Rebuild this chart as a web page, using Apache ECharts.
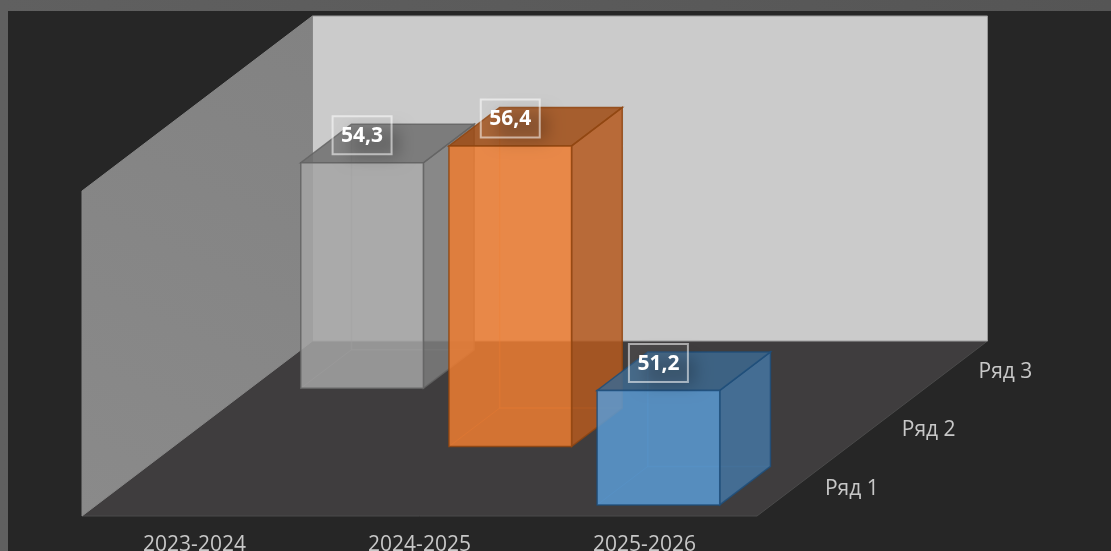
<!DOCTYPE html>
<html><head><meta charset="utf-8">
<style>html,body{margin:0;padding:0;background:#5b5b5b;overflow:hidden}#c{width:1111px;height:551px}</style>
<script src="https://cdn.jsdelivr.net/npm/echarts@6/dist/echarts.min.js"></script>
</head><body><div id="c"></div>
<script>
const categories = ['2023-2024', '2024-2025', '2025-2026'];
const rowNames = ['Ряд 1', 'Ряд 2', 'Ряд 3'];
const row3Values = [54.3, null, null];
const row2Values = [null, 56.4, null];
const row1Values = [null, null, 51.2];
const AXIS_MIN = 48, AXIS_MAX = 57.08;

const FONT = '"Open Sans", sans-serif';
const STEP_X = 76.83, STEP_Y = -58.33;   // screen shift of one depth row
const INSET_U = 0.2245, WIDTH_U = 0.545; // bar inset and width within a category
const INSET_D = 0.19, WIDTH_D = 0.66;    // bar inset and depth within a row

function P(api, u, d, v) {
  const c = api.coord([0, v]);
  const bw = api.size([1, 0])[0];
  return [c[0] + (u - 0.5) * bw + d * STEP_X, c[1] + d * STEP_Y];
}
const poly = (points, style, z2) => ({ type: 'polygon', shape: { points }, style, z2: z2 || 0, silent: true });

function renderStage(params, api) {
  const T = AXIS_MAX, B = AXIS_MIN, D = rowNames.length, U = categories.length;
  return {
    type: 'group',
    children: [
      poly([P(api,0,0,B),P(api,U,0,B),P(api,U,D,B),P(api,0,D,B)], { fill:'#3f3d3e', stroke:'#4a4a4a', lineWidth:1 }),
      poly([P(api,0,D,B),P(api,U,D,B),P(api,U,D,T),P(api,0,D,T)], { fill:'#cbcbcb', stroke:'#9a9a9a', lineWidth:1 }),
      poly([P(api,0,0,B),P(api,0,D,B),P(api,0,D,T),P(api,0,0,T)], {
        fill:{ type:'linear', x:0, y:1, x2:1, y2:0, colorStops:[{offset:0,color:'#8a8a8a'},{offset:1,color:'#828282'}] },
        stroke:'#888888', lineWidth:1 })
    ]
  };
}

function bar(row, color, side, top, edge, backLine) {
  return function (params, api) {
    const u = api.value(0), v = api.value(1), B = AXIS_MIN;
    const u0 = u + INSET_U, u1 = u0 + WIDTH_U, d0 = row + INSET_D, d1 = d0 + WIDTH_D;
    const p = (a, b, c) => P(api, a, b, c);
    const a = 0.85;
    const ft = p(u0, d0, v), ftr = p(u1, d0, v), fb = p(u0, d0, B), fbr = p(u1, d0, B);
    const bt = p(u0, d1, v), btr = p(u1, d1, v), bb = p(u0, d1, B), bbr = p(u1, d1, B);
    const cx = (ft[0] + ftr[0]) / 2, cy = ft[1] - 27.5;
    const label = String(v).replace('.', ',');
    const OFF = 3000;
    return {
      type: 'group',
      children: [
        { type:'polyline', shape:{ points:[bt, bb, bbr] }, style:{ stroke:backLine, lineWidth:1.5, fill:null }, silent:true },
        { type:'line', shape:{ x1:fb[0], y1:fb[1], x2:bb[0], y2:bb[1] }, style:{ stroke:backLine, lineWidth:1 }, silent:true },
        poly([ftr, fbr, bbr, btr], { fill:side, opacity:a, stroke:edge, lineWidth:1.5 }),
        poly([ft, ftr, btr, bt], { fill:top, opacity:a, stroke:edge, lineWidth:1.5 }),
        poly([ft, ftr, fbr, fb], { fill:color, opacity:a, stroke:edge, lineWidth:1.5 }),
        { type:'rect', shape:{ x:cx-13-OFF, y:cy-6, width:50, height:28 },
          style:{ fill:'#000', shadowBlur:16, shadowColor:'rgba(0,0,0,0.22)', shadowOffsetX:OFF, shadowOffsetY:0 }, silent:true },
        { type:'rect', shape:{ x:cx-29.5, y:cy-19, width:59, height:38 },
          style:{ fill:'rgba(255,255,255,0.05)', stroke:'rgba(255,255,255,0.55)', lineWidth:2 }, silent:true },
        { type:'text', style:{ text:label, x:cx, y:cy+1, align:'center', verticalAlign:'middle', fill:'#ffffff',
          font:'bold 21px ' + FONT }, silent:true }
      ]
    };
  };
}

function renderRowLabel(params, api) {
  const d = api.value(0);
  const p = P(api, categories.length, d + 0.5, AXIS_MIN);
  return { type:'text', style:{ text:rowNames[d], x:p[0] + 29.5, y:p[1] + 2, align:'left', verticalAlign:'middle',
    fill:'#c8c8c8', font:'21px ' + FONT }, silent:true };
}

const toPairs = vals => vals.map((v, i) => [i, v]).filter(x => x[1] !== null);

const chart = echarts.init(document.getElementById('c'), null, { renderer:'canvas' });
chart.setOption({
  animation: false,
  backgroundColor: { type:'linear', x:0, y:0, x2:1, y2:0, colorStops:[{offset:0,color:'#606060'},{offset:1,color:'#555555'}] },
  graphic: [{ type:'rect', shape:{ x:8, y:11, width:1103, height:540 }, style:{ fill:'#262626' }, z:-1, silent:true }],
  grid: { left:82, right:354, top:191, bottom:35, containLabel:false, outerBoundsMode:'none' },
  xAxis: { type:'category', data:categories, axisLine:{show:false}, axisTick:{show:false}, splitLine:{show:false},
    axisLabel:{ color:'#c8c8c8', fontFamily:'"Open Sans", sans-serif', fontSize:21, margin:19, interval:0, hideOverlap:false } },
  yAxis: { type:'value', min:AXIS_MIN, max:AXIS_MAX, show:false, splitLine:{show:false} },
  series: [
    { type:'custom', clip:false, silent:true, renderItem:renderStage, data:[[0, AXIS_MIN]], z:1 },
    { name:rowNames[2], type:'custom', clip:false, silent:true, z:2, data:toPairs(row3Values),
      renderItem:bar(2, '#a5a5a5', '#7d7d7d', '#6e6e6e', '#636363', 'rgba(130,130,130,0.4)') },
    { name:rowNames[1], type:'custom', clip:false, silent:true, z:3, data:toPairs(row2Values),
      renderItem:bar(1, '#ed7d31', '#b5591e', '#a04b13', '#8f4510', 'rgba(237,125,49,0.35)') },
    { name:rowNames[0], type:'custom', clip:false, silent:true, z:4, data:toPairs(row1Values),
      renderItem:bar(0, '#5b9bd5', '#4575a2', '#3d688f', '#1f4e79', 'rgba(70,125,180,0.35)') },
    { type:'custom', clip:false, silent:true, z:5, renderItem:renderRowLabel, data:rowNames.map((n, i) => [i, AXIS_MIN]),
      encode:{ x:-1, y:1 } }
  ]
});
</script></body></html>
